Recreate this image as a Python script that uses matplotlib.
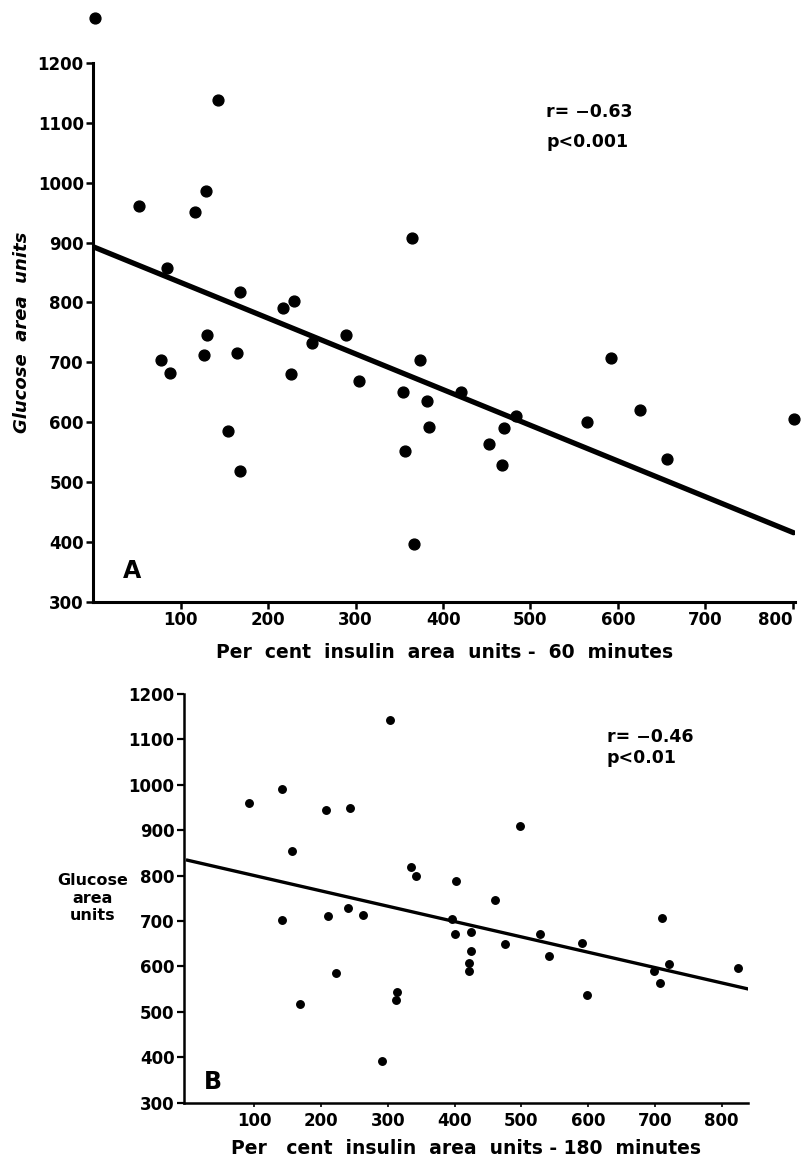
import matplotlib.pyplot as plt

# Panel A: per cent insulin area units at 60 min vs glucose area units
a_x = [2, 143, 52, 116, 129, 84, 168, 217, 229, 77, 87, 126, 130, 164, 154, 168,
       226, 250, 289, 304, 354, 364, 374, 382, 384, 356, 367, 420, 470, 453, 467,
       483, 565, 592, 625, 656, 801]
a_y = [1275, 1139, 962, 951, 987, 857, 818, 791, 802, 703, 682, 712, 746, 716, 585, 519,
       680, 732, 746, 669, 650, 907, 704, 635, 591, 552, 396, 651, 590, 563, 529,
       610, 600, 707, 620, 539, 605]
a_line_x = [0, 801]
a_line_y = [893, 415]

# Panel B: per cent insulin area units at 180 min vs glucose area units
b_x = [303, 92, 142, 207, 244, 157, 141, 210, 241, 263, 222, 169, 291, 313, 312,
       498, 334, 342, 402, 461, 396, 711, 400, 425, 425, 422, 422, 476, 528, 541,
       591, 598, 698, 721, 707, 825]
b_y = [1142, 961, 990, 945, 948, 855, 703, 712, 729, 714, 586, 517, 392, 544, 526,
       910, 818, 800, 788, 746, 705, 707, 672, 677, 635, 607, 589, 650, 671, 623,
       652, 537, 589, 606, 563, 597]
b_line_x = [0, 838]
b_line_y = [834, 551]

y_ticks = [300, 400, 500, 600, 700, 800, 900, 1000, 1100, 1200]
x_ticks = [100, 200, 300, 400, 500, 600, 700, 800]

plt.rcParams['font.family'] = ['DejaVu Sans']
plt.rcParams['font.weight'] = 'bold'
plt.rcParams['axes.labelweight'] = 'bold'

fig = plt.figure(figsize=(8.01, 11.63), dpi=100)

# ---- panel A
ax1 = fig.add_axes([0.1167, 0.4828, 0.8762, 0.4628])
ax1.plot(a_line_x, a_line_y, color='black', lw=3.8, solid_capstyle='round')
ax1.plot(a_x, a_y, 'o', color='black', ms=7.8, clip_on=False)
ax1.set_xlim(0, 803)
ax1.set_ylim(300, 1200)
ax1.set_xticks(x_ticks)
ax1.set_yticks(y_ticks)
for s in ['top', 'right']:
    ax1.spines[s].set_visible(False)
for s in ['left', 'bottom']:
    ax1.spines[s].set_linewidth(2.2)
ax1.tick_params(length=5, width=1.8, labelsize=12, pad=2)
ax1.get_xticklabels()[-1].set_horizontalalignment('right')
ax1.text(518, 1110, 'r= \u22120.63', fontsize=12.5)
ax1.text(518, 1060, 'p<0.001', fontsize=12.5)
ax1.text(34, 340, 'A', fontsize=17)
ax1.set_ylabel('Glucose  area  units', fontsize=13, style='italic', labelpad=5)
ax1.set_xlabel('Per  cent  insulin  area  units -  60  minutes', fontsize=13.5, labelpad=10)

# ---- panel B
ax2 = fig.add_axes([0.23, 0.05185, 0.7035, 0.3514])
ax2.plot(b_line_x, b_line_y, color='black', lw=2.4)
ax2.plot(b_x, b_y, 'o', color='black', ms=5.4, clip_on=False)
ax2.set_xlim(-5, 839)
ax2.set_ylim(300, 1200)
ax2.set_xticks(x_ticks)
ax2.set_yticks(y_ticks)
for s in ['top', 'right']:
    ax2.spines[s].set_visible(False)
for s in ['left', 'bottom']:
    ax2.spines[s].set_linewidth(1.8)
ax2.tick_params(axis='y', length=5, width=1.6, labelsize=12, pad=2)
ax2.tick_params(axis='x', length=3, width=1.2, labelsize=12, pad=4)
ax2.text(628, 1095, 'r= \u22120.46', fontsize=12.5)
ax2.text(628, 1048, 'p<0.01', fontsize=12.5)
ax2.text(25, 330, 'B', fontsize=17)
ax2.set_ylabel('Glucose\narea\nunits', fontsize=11.5, rotation=0, ha='center',
               va='center', labelpad=26)
ax2.set_xlabel('Per   cent  insulin  area  units - 180  minutes', fontsize=13.5, labelpad=6)

fig.savefig('out.png', dpi=100)
